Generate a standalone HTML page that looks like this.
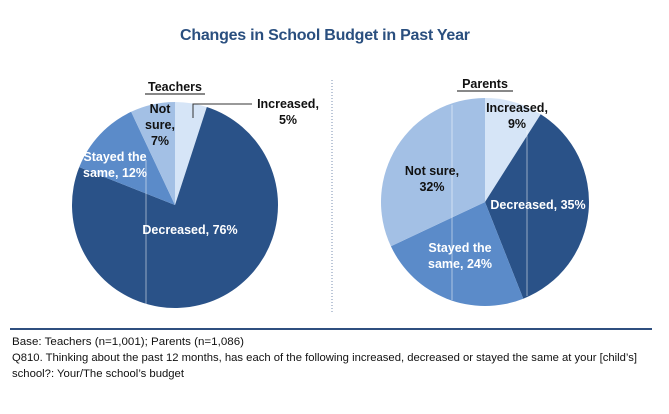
<!DOCTYPE html>
<html><head><meta charset="utf-8"><style>
body{margin:0;background:#fff;width:669px;height:414px;overflow:hidden}
svg{display:block;font-family:"Liberation Sans",sans-serif}
</style></head><body>
<svg id="c" width="669" height="414">
<text x="325" y="40" text-anchor="middle" font-size="16" font-weight="bold" fill="#2a4f7f" textLength="290">Changes in School Budget in Past Year</text>
<line x1="332" y1="80" x2="332" y2="314" stroke="#7a8fb0" stroke-dasharray="1,2"/>
<line x1="10" y1="329" x2="652" y2="329" stroke="#2f4f7f" stroke-width="2"/>
<g font-size="11" fill="#111">
<text x="12" y="345" textLength="232" lengthAdjust="spacingAndGlyphs">Base: Teachers (n=1,001); Parents (n=1,086)</text>
<text x="12" y="361" textLength="625" lengthAdjust="spacingAndGlyphs">Q810. Thinking about the past 12 months, has each of the following increased, decreased or stayed the same at your [child’s]</text>
<text x="12" y="377" textLength="172" lengthAdjust="spacingAndGlyphs">school?: Your/The school’s budget</text>
</g>
</svg>
<script>
const categories=["Increased","Decreased","Stayed the same","Not sure"];
const teacherValues=[5,76,12,7];
const parentValues=[9,35,24,32];
const colors=["#d6e5f7","#2a5288","#5b8bc9","#a3c0e5"];
const svg=document.getElementById('c');
const NS="http://www.w3.org/2000/svg";
function mk(t,a){const e=document.createElementNS(NS,t);for(const k in a)e.setAttribute(k,a[k]);svg.appendChild(e);return e;}
function pie(vals,cx,cy,r,name){
 const tot=vals.reduce((a,b)=>a+b,0);let a0=0;
 vals.forEach((v,i)=>{
  const a1=a0+v/tot*2*Math.PI;
  const x0=cx+r*Math.sin(a0),y0=cy-r*Math.cos(a0),x1=cx+r*Math.sin(a1),y1=cy-r*Math.cos(a1);
  const p=mk('path',{d:`M${cx},${cy}L${x0},${y0}A${r},${r} 0 ${a1-a0>Math.PI?1:0} 1 ${x1},${y1}Z`,fill:colors[i]});
  
  
  a0=a1;
 });
}
pie(teacherValues,175,205,103,'teachers');
pie(parentValues,485,202,104,'parents');
mk('line',{x1:146,y1:160,x2:146,y2:306,stroke:'#fff','stroke-opacity':0.5});
mk('line',{x1:452,y1:105,x2:452,y2:300,stroke:'#fff','stroke-opacity':0.5});
mk('line',{x1:527,y1:130,x2:527,y2:296,stroke:'#fff','stroke-opacity':0.5});
function txt(lines,x,y,col,name,anchor){
 lines.forEach((l,j)=>{const t=mk('text',{x:x,y:y+j*16,'text-anchor':anchor||'middle','font-size':12.5,'font-weight':'bold',fill:col});t.textContent=l;
 
 });
}
txt(["Teachers"],175,91,"#111","teachers-title");
mk('line',{x1:145,y1:94,x2:205,y2:94,stroke:'#111','stroke-width':1});
txt(["Parents"],485,88,"#111","parents-title");
mk('line',{x1:457,y1:91,x2:513,y2:91,stroke:'#111','stroke-width':1});
mk('polyline',{points:'193,118 193,104 252,104',fill:'none',stroke:'#333'});
txt(["Increased,","5%"],288,108,"#111","teachers-label-increased");
txt(["Not","sure,","7%"],160,113,"#111","teachers-label-not-sure");
txt(["Stayed the","same, 12%"],115,161,"#fff","teachers-label-stayed");
txt(["Decreased, 76%"],190,234,"#fff","teachers-label-decreased");
txt(["Increased,","9%"],517,112,"#111","parents-label-increased");
txt(["Not sure,","32%"],432,175,"#111","parents-label-not-sure");
txt(["Decreased, 35%"],538,209,"#fff","parents-label-decreased");
txt(["Stayed the","same, 24%"],460,252,"#fff","parents-label-stayed");
</script>
</body></html>
